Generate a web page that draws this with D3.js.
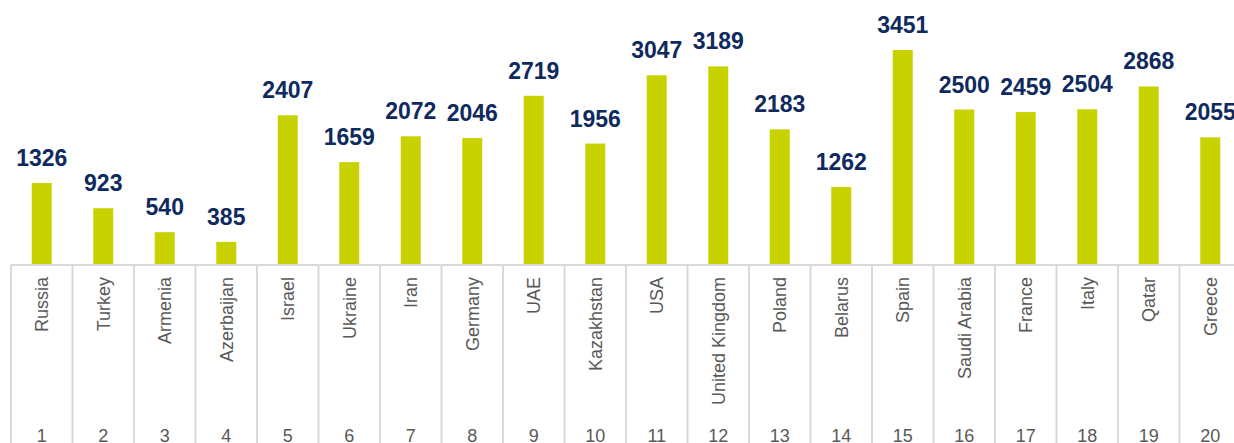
<!DOCTYPE html>
<html>
<head>
<meta charset="utf-8">
<script src="https://cdn.jsdelivr.net/npm/d3@7"></script>
<style>
  body { margin: 0; background: #fff; }
  svg { display: block; font-family: Arial, "Liberation Sans", sans-serif; }
</style>
</head>
<body>
<svg id="chart" width="1234" height="443"></svg>
<script>
// chart data
const countries = ["Russia", "Turkey", "Armenia", "Azerbaijan", "Israel", "Ukraine", "Iran", "Germany", "UAE", "Kazakhstan",
  "USA", "United Kingdom", "Poland", "Belarus", "Spain", "Saudi Arabia", "France", "Italy", "Qatar", "Greece"];
const values = [1326, 923, 540, 385, 2407, 1659, 2072, 2046, 2719, 1956,
  3047, 3189, 2183, 1262, 3451, 2500, 2459, 2504, 2868, 2055];
const ranks = ["1", "2", "3", "4", "5", "6", "7", "8", "9", "10",
  "11", "12", "13", "14", "15", "16", "17", "18", "19", "20"];

// colours
const bar_green = "#c8d200";
const label_navy = "#0f2a5e";
const grid_grey = "#d9d9d9";
const text_grey = "#595959";

const svg = d3.select("#chart");

// the category strip is a little wider than the window, last column gets cut off
const baseline = 265;
const bottom = 443;
const barWidth = 20;

const xScale = d3.scaleBand()
  .domain(countries)
  .range([11, 11 + 61.5 * countries.length])
  .paddingInner(0);

const yScale = d3.scaleLinear()
  .domain([0, 3500])
  .range([266, 266 - 219.1]);

const rows = countries.map((c, i) => ({ country: c, value: values[i], rank: ranks[i] }));

// bars
svg.append("g")
  .selectAll("rect")
  .data(rows)
  .join("rect")
  .attr("x", d => xScale(d.country) + xScale.bandwidth() / 2 - barWidth / 2)
  .attr("y", d => yScale(d.value))
  .attr("width", barWidth)
  .attr("height", d => yScale(0) - yScale(d.value))
  .attr("fill", bar_green);

// value labels above the bars
svg.append("g")
  .selectAll("text")
  .data(rows)
  .join("text")
  .attr("x", d => xScale(d.country) + xScale.bandwidth() / 2)
  .attr("y", d => yScale(d.value) - 17)
  .attr("text-anchor", "middle")
  .attr("font-size", 23)
  .attr("font-weight", "bold")
  .attr("fill", label_navy)
  .text(d => d.value);

// table grid under the bars
const grid = svg.append("g")
  .attr("stroke", grid_grey)
  .attr("stroke-width", 2);

grid.append("line")
  .attr("x1", xScale.range()[0])
  .attr("x2", xScale.range()[1])
  .attr("y1", baseline)
  .attr("y2", baseline);

grid.selectAll("line.sep")
  .data(countries.concat(["end"]))
  .join("line")
  .attr("class", "sep")
  .attr("x1", (d, i) => xScale.range()[0] + i * xScale.bandwidth())
  .attr("x2", (d, i) => xScale.range()[0] + i * xScale.bandwidth())
  .attr("y1", baseline)
  .attr("y2", bottom);

// rotated country names
svg.append("g")
  .selectAll("text")
  .data(rows)
  .join("text")
  .attr("transform", d => `translate(${xScale(d.country) + xScale.bandwidth() / 2 + 6.5},277) rotate(-90)`)
  .attr("text-anchor", "end")
  .attr("font-size", 18)
  .attr("fill", text_grey)
  .text(d => d.country);

// rank numbers at the bottom
svg.append("g")
  .selectAll("text")
  .data(rows)
  .join("text")
  .attr("x", d => xScale(d.country) + xScale.bandwidth() / 2)
  .attr("y", 442)
  .attr("text-anchor", "middle")
  .attr("font-size", 18)
  .attr("fill", text_grey)
  .text(d => d.rank);
</script>
</body>
</html>
